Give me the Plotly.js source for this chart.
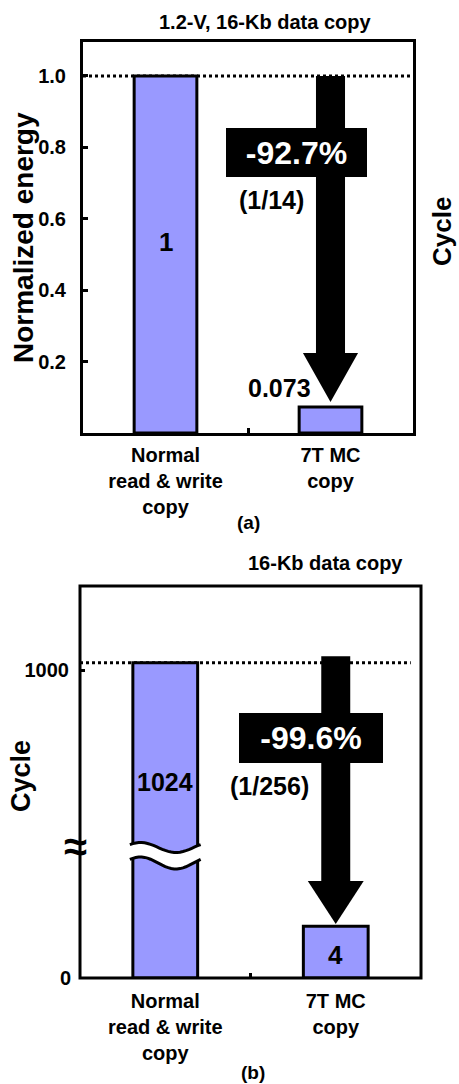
<!DOCTYPE html>
<html><head><meta charset="utf-8">
<script src="https://cdn.plot.ly/plotly-3.0.1.min.js"></script>
<style>html,body{margin:0;padding:0;background:#fff;}</style>
</head><body><div id="chart" style="width:459px;height:1084px;"></div>
<script>
// ---- data ----
const categories = ['Normal<br>read & write<br>copy', '7T MC<br>copy'];
const energyValues = [1, 0.073];
const energyLabels = ['1', '0.073'];
const energyReduction = '-92.7%';
const energyRatio = '(1/14)';
const energyTicks = [0.2, 0.4, 0.6, 0.8, 1.0];
const energyTickText = ['0.2', '0.4', '0.6', '0.8', '1.0'];
const cycleValues = [1024, 4];
const cycleLabels = ['1024', '4'];
const cycleReduction = '-99.6%';
const cycleRatio = '(1/256)';
const cycleTicksLow = [0];
const cycleTicksHigh = [1000];
const titleA = '1.2-V, 16-Kb data copy';
const titleB = '16-Kb data copy';

// ---- geometry helpers ----
const W = 459, H = 1084;
const fx = p => p / W;
const fy = p => 1 - p / H;
const FAM = 'Liberation Sans, Arial, sans-serif';
const F = (size, color) => ({family: FAM, size: size, color: color || 'black', weight: 'bold'});
const idx = categories.map((_, i) => i);
const BAR_FILL = '#9999ff';
const BW = 0.38;

const traces = [
  {type: 'bar', x: idx, y: energyValues, xaxis: 'x', yaxis: 'y', width: BW,
   marker: {color: BAR_FILL, line: {color: 'black', width: 3}}, hoverinfo: 'y', showlegend: false},
  {type: 'bar', x: idx, y: cycleValues, xaxis: 'x2', yaxis: 'y3', width: BW,
   marker: {color: BAR_FILL, line: {color: 'black', width: 3}}, hoverinfo: 'y', showlegend: false},
  {type: 'bar', x: idx, y: cycleValues, xaxis: 'x2', yaxis: 'y4', width: BW,
   marker: {color: BAR_FILL, line: {color: 'black', width: 3}}, hoverinfo: 'y', showlegend: false}
];

const xCommon = {
  range: [-0.5, 1.5], tickvals: idx, ticktext: categories, ticks: '',
  minor: {tickvals: [0.5], ticks: 'inside', ticklen: 5, tickwidth: 3, tickcolor: 'black'},
  showgrid: false, zeroline: false, tickfont: F(20), fixedrange: true
};

// panel b scale
const lowRange = [0, 9.5];
const highRange = [400, 1273];

const layout = {
  width: W, height: H, margin: {l: 0, r: 0, t: 0, b: 0},
  paper_bgcolor: 'white', plot_bgcolor: 'white', showlegend: false,
  font: F(16), bargap: 0,
  xaxis: Object.assign({}, xCommon, {domain: [fx(83), fx(413)], anchor: 'y',
    showline: true, linewidth: 3, linecolor: 'black', mirror: true, ticklabelstandoff: 2}),
  yaxis: {domain: [fy(433), fy(42)], anchor: 'x', range: [0, 1.095],
    tickvals: energyTicks, ticktext: energyTickText, ticks: 'inside', ticklen: 5, tickwidth: 3,
    tickcolor: 'black', showline: true, linewidth: 3, linecolor: 'black', mirror: true,
    showgrid: false, zeroline: false, tickfont: F(20), ticklabelstandoff: 10, fixedrange: true},
  xaxis2: Object.assign({}, xCommon, {domain: [fx(80), fx(421)], anchor: 'y3', showline: false,
    ticklabelstandoff: 9}),
  yaxis3: {domain: [fy(978), fy(855)], anchor: 'x2', range: lowRange,
    tickvals: cycleTicksLow, ticktext: cycleTicksLow.map(String), ticks: '',
    showline: false, showgrid: false, zeroline: false, tickfont: F(20), ticklabelstandoff: 8, fixedrange: true},
  yaxis4: {domain: [fy(855), fy(586)], anchor: 'x2', range: highRange,
    tickvals: cycleTicksHigh, ticktext: cycleTicksHigh.map(String), ticks: 'inside', ticklen: 5, tickwidth: 3,
    tickcolor: 'black', showline: false, showgrid: false, zeroline: false, tickfont: F(20),
    ticklabelstandoff: 10, fixedrange: true},
  shapes: [],
  annotations: []
};

const S = layout.shapes, A = layout.annotations;

// ---- panel (a) decorations ----
S.push({type: 'line', layer: 'below', xref: 'x domain', yref: 'y', x0: 0, x1: 1,
  y0: energyValues[0], y1: energyValues[0], line: {color: 'black', width: 3, dash: 'dot'}});
const aHeadBase = 0.224, aTip = energyValues[1] + 0.014;
S.push({type: 'rect', layer: 'above', xref: 'x', yref: 'y', x0: 1 - 0.088, x1: 1 + 0.088,
  y0: aHeadBase, y1: energyValues[0], fillcolor: 'black', line: {width: 0}});
S.push({type: 'path', layer: 'above', xref: 'x', yref: 'y',
  path: `M ${1 - 0.167},${aHeadBase} L ${1 + 0.167},${aHeadBase} L 1,${aTip} Z`,
  fillcolor: 'black', line: {width: 0}});

// ---- panel (b) decorations ----
S.push({type: 'line', layer: 'below', xref: 'x2 domain', yref: 'y4', x0: 0, x1: 0.97,
  y0: cycleValues[0], y1: cycleValues[0], line: {color: 'black', width: 3, dash: 'dot'}});
const bShaftTop = 1045, bHeadBase = 7.49, bTip = cycleValues[1] + 0.17;
S.push({type: 'rect', layer: 'above', xref: 'x2', yref: 'y4', x0: 1 - 0.085, x1: 1 + 0.085,
  y0: 0, y1: bShaftTop, fillcolor: 'black', line: {width: 0}});
S.push({type: 'rect', layer: 'above', xref: 'x2', yref: 'y3', x0: 1 - 0.085, x1: 1 + 0.085,
  y0: bHeadBase, y1: 50, fillcolor: 'black', line: {width: 0}});
S.push({type: 'path', layer: 'above', xref: 'x2', yref: 'y3',
  path: `M ${1 - 0.164},${bHeadBase} L ${1 + 0.164},${bHeadBase} L 1,${bTip} Z`,
  fillcolor: 'black', line: {width: 0}});
// frame of panel b
S.push({type: 'rect', layer: 'above', xref: 'x2 domain', yref: 'paper', x0: 0, x1: 1,
  y0: fy(978), y1: fy(586), line: {color: 'black', width: 3}, fillcolor: 'rgba(0,0,0,0)'});

// axis-break wave across bar 0 of panel b
(function () {
  const half = BW / 2 + 3 / 170.5;
  const n = 24;
  const wave = (cy, amp) => {
    const pts = [];
    for (let i = 0; i <= n; i++) {
      const t = i / n;
      pts.push([-half + 2 * half * t, fy(cy + amp * Math.sin(2 * Math.PI * (t - 0.4)))]);
    }
    return pts;
  };
  const up = wave(847.5, 5), lo = wave(863, 6);
  const toPath = pts => pts.map((p, i) => (i ? 'L ' : 'M ') + p[0].toFixed(4) + ',' + p[1].toFixed(5)).join(' ');
  const fillPts = up.concat(lo.slice().reverse());
  S.push({type: 'path', layer: 'above', xref: 'x2', yref: 'paper',
    path: toPath(fillPts) + ' Z', fillcolor: 'white', line: {width: 0}});
  S.push({type: 'path', layer: 'above', xref: 'x2', yref: 'paper',
    path: toPath(up), line: {color: 'black', width: 3}});
  S.push({type: 'path', layer: 'above', xref: 'x2', yref: 'paper',
    path: toPath(lo), line: {color: 'black', width: 3}});
})();

// ---- annotations ----
const ann = (o) => A.push(Object.assign({showarrow: false, xanchor: 'center', yanchor: 'middle'}, o));
// panel a
ann({xref: 'paper', yref: 'paper', x: fx(265), y: fy(22), text: titleA, font: F(20)});
ann({xref: 'paper', yref: 'paper', x: fx(23), y: fy(238), text: 'Normalized energy', textangle: -90, font: F(28)});
ann({xref: 'paper', yref: 'paper', x: fx(442), y: fy(232), text: 'Cycle', textangle: -90, font: F(26)});
ann({xref: 'paper', yref: 'paper', x: fx(248), y: fy(522), text: '(a)', font: F(19)});
ann({xref: 'x', yref: 'y', x: 0, y: 0.534, text: energyLabels[0], font: F(26)});
ann({xref: 'x', yref: 'y', x: 0.688, y: 0.126, text: energyLabels[1], font: F(25)});
ann({xref: 'x', yref: 'y', x: 0.794, y: 0.785, text: energyReduction, font: F(32, 'white'),
  bgcolor: 'black', width: 141, height: 49, borderpad: 0, borderwidth: 0});
ann({xref: 'x', yref: 'y', x: 0.645, y: 0.652, text: energyRatio, font: F(25)});
// panel b
ann({xref: 'paper', yref: 'paper', x: fx(325), y: fy(563), text: titleB, font: F(20)});
ann({xref: 'paper', yref: 'paper', x: fx(21), y: fy(776), text: 'Cycle', textangle: -90, font: F(27)});
ann({xref: 'paper', yref: 'paper', x: fx(253), y: fy(1072), text: '(b)', font: F(19)});
ann({xref: 'paper', yref: 'paper', x: fx(75), y: fy(846), text: '≈', font: F(42)});
ann({xref: 'x2', yref: 'y4', x: 0, y: 636, text: cycleLabels[0], font: F(25)});
ann({xref: 'x2', yref: 'y3', x: 1, y: 1.78, text: cycleLabels[1], font: F(26)});
ann({xref: 'x2', yref: 'y4', x: 0.855, y: 779, text: cycleReduction, font: F(32, 'white'),
  bgcolor: 'black', width: 144, height: 50, borderpad: 0, borderwidth: 0});
ann({xref: 'x2', yref: 'y4', x: 0.614, y: 623, text: cycleRatio, font: F(25)});

Plotly.newPlot('chart', traces, layout, {staticPlot: true, displayModeBar: false});
</script></body></html>
